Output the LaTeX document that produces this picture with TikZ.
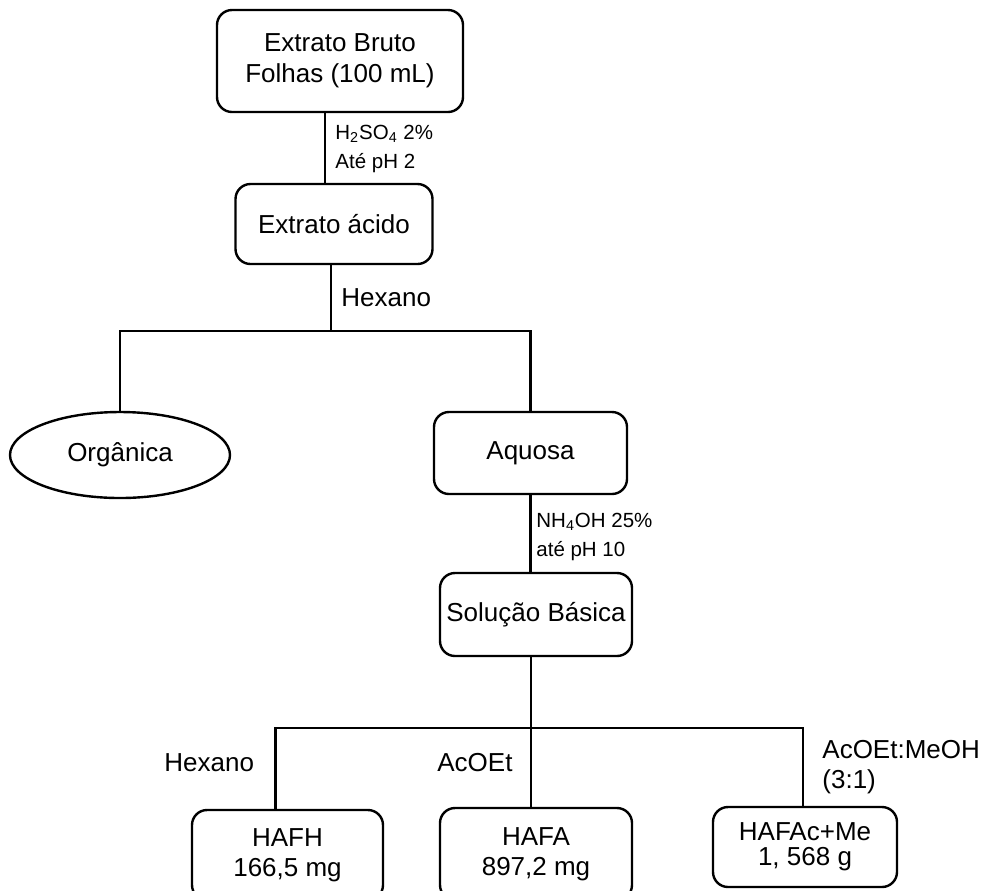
\documentclass[tikz,border=0pt]{standalone}
\usepackage{fontspec}
\setmainfont{Liberation Sans}
\usetikzlibrary{shapes.geometric}
\tikzset{
  fbox/.style={draw, rounded corners=7.5pt, line width=1.2pt, align=center,
               font=\fontsize{13}{15.5}\selectfont, inner sep=2pt},
  fell/.style={ellipse, draw, line width=1.2pt, inner sep=0pt,
               font=\fontsize{13}{15.5}\selectfont},
  flbl/.style={anchor=west, align=left, inner sep=0pt,
               font=\fontsize{10.25}{14.5}\selectfont},
  fsolv/.style={anchor=west, align=left, inner sep=0pt,
                font=\fontsize{13}{15}\selectfont},
  flink/.style={line width=1.2pt},
}

\begin{document}
\begin{tikzpicture}[x=0.5pt,y=-0.5pt]
  \clip (0,0) rectangle (984,890);

  \node[fbox, minimum width=123pt, minimum height=51pt] (bruto) at (340,61)
       {Extrato Bruto\\Folhas (100 mL)};
  \node[fbox, minimum width=98.5pt, minimum height=40pt] (acido) at (334,224)
       {Extrato ácido};
  \node[fell, minimum width=110pt, minimum height=43pt] (org) at (120,455)
       {Orgânica};
  \node[fbox, minimum width=96.5pt, minimum height=41pt] (aq) at (530.5,453)
       {Aquosa};
  \node[fbox, minimum width=96pt, minimum height=41.5pt] (bas) at (536,614.5)
       {Solução Básica};
  \node[fbox, font=\fontsize{13}{15}\selectfont, minimum width=95.5pt, minimum height=45pt] (hafh) at (287.5,855)
       {HAFH\\166,5 mg};
  \node[fbox, font=\fontsize{13}{15}\selectfont, minimum width=96pt, minimum height=46pt] (hafa) at (536,854)
       {HAFA\\897,2 mg};
  \node[fbox, font=\fontsize{13}{12.5}\selectfont, minimum width=92pt, minimum height=40pt] (hafac) at (805,847)
       {HAFAc+Me\\1, 568 g};

  % acidificação
  \draw[flink] ([xshift=-7.5pt]bruto.south) -- ([xshift=-7.5pt]bruto.south |- acido.north);
  \node[flbl] (acid) at (335,148.5) {H\textsubscript{2}SO\textsubscript{4} 2\%\\Até pH 2};

  % partição com hexano
  \coordinate (cut1) at (331,331);
  \draw[flink] (acido.south -| cut1) -- (cut1);
  \draw[flink] (org.north) |- (cut1) -| (aq.north);
  \node[fsolv] (hex1) at (341,298) {Hexano};

  % basificação
  \draw[flink] (aq.south) -- (aq.south |- bas.north);
  \node[flbl] (base) at (536,537) {NH\textsubscript{4}OH 25\%\\até pH 10};

  % frações
  \coordinate (cut2) at (531,728);
  \draw[flink] (bas.south -| cut2) -- (cut2 |- hafa.north);
  \draw[flink] ([xshift=-6pt]hafh.north) |- (cut2) -| ([xshift=-1pt]hafac.north);
  \node[fsolv] (hex2) at (164,763) {Hexano};
  \node[fsolv] (acoet) at (437,763) {AcOEt};
  \node[fsolv] (acme) at (822,767) {AcOEt:MeOH\\(3:1)};

\end{tikzpicture}
\end{document}
